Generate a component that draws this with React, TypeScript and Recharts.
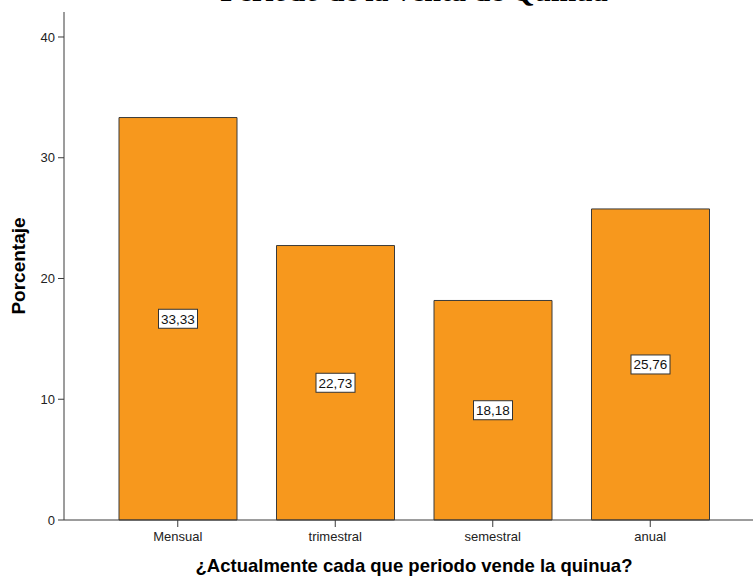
import { Bar, BarChart, LabelList, XAxis, YAxis } from "recharts";

// Porcentaje por periodo de venta
const periods = ["Mensual", "trimestral", "semestral", "anual"];
const percentages = [33.33, 22.73, 18.18, 25.76];
const yTicks = [0, 10, 20, 30, 40];
const yMax = 42.07;

const data = periods.map((period, i) => ({ period, value: percentages[i] }));

const font = "'Liberation Sans', Arial, sans-serif";
const tickStyle = { fill: "#222", fontSize: 13, fontFamily: font };
const barFill = "#f7981d";
const edge = "#3a3a3a";

const fmt = (v: number) => v.toFixed(2).replace(".", ",");

function ValueBox(props: any) {
  const { x, y, width, height, value } = props;
  const cx = x + width / 2;
  const cy = y + height / 2;
  const w = 39;
  const h = 19;
  return (
    <g>
      <rect x={cx - w / 2} y={cy - h / 2} width={w} height={h} fill="#fff" stroke="#333" strokeWidth={1} />
      <text x={cx} y={cy + 5} textAnchor="middle" fontSize={13.5} fontFamily={font} fill="#111">
        {fmt(value)}
      </text>
    </g>
  );
}

export default function App() {
  return (
    <div style={{ position: "absolute", left: 0, top: 0, width: 753, height: 576, background: "#fff", overflow: "hidden" }}>
      <div
        style={{
          position: "absolute",
          left: 0,
          width: 828,
          top: -24,
          textAlign: "center",
          fontFamily: "'Liberation Serif', 'Times New Roman', serif",
          fontWeight: "bold",
          fontSize: 30,
          lineHeight: "30px",
          color: "#000",
        }}
      >
        Periodo de la venta de Quinua
      </div>
      <BarChart width={753} height={576} data={data} margin={{ top: 12, right: 0, bottom: 0, left: 0 }} barCategoryGap={0}>
        <XAxis
          xAxisId="top"
          orientation="top"
          dataKey="period"
          height={0}
          tick={false}
          tickLine={false}
          axisLine={{ stroke: "#8c8c8c" }}
          padding={{ left: 35, right: 24 }}
        />
        <XAxis
          dataKey="period"
          height={56}
          tick={tickStyle}
          tickSize={7}
          tickMargin={5}
          tickLine={{ stroke: edge }}
          axisLine={{ stroke: edge }}
          padding={{ left: 35, right: 24 }}
          label={({ viewBox }: any) => (
            <text
              x={viewBox.x + (viewBox.width + 35 - 24) / 2}
              y={viewBox.y + 52}
              textAnchor="middle"
              fontSize={18.5}
              fontWeight="bold"
              fontFamily={font}
              fill="#000"
            >
              ¿Actualmente cada que periodo vende la quinua?
            </text>
          )}
        />
        <YAxis
          width={64}
          domain={[0, yMax]}
          ticks={yTicks}
          tick={tickStyle}
          tickSize={6}
          tickMargin={3}
          tickLine={{ stroke: edge }}
          axisLine={{ stroke: edge }}
          label={({ viewBox }: any) => (
            <text
              x={18}
              y={viewBox.y + viewBox.height / 2}
              transform={`rotate(-90 18 ${viewBox.y + viewBox.height / 2})`}
              textAnchor="middle"
              dominantBaseline="central"
              fontSize={19}
              fontWeight="bold"
              fontFamily={font}
              fill="#000"
            >
              Porcentaje
            </text>
          )}
        />
        <Bar dataKey="value" barSize={118} fill={barFill} stroke={edge} strokeWidth={1} isAnimationActive={false}>
          <LabelList dataKey="value" content={<ValueBox />} />
        </Bar>
      </BarChart>
    </div>
  );
}
